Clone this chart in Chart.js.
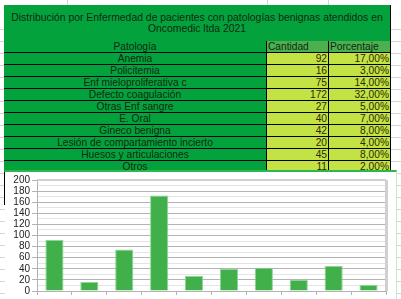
<!DOCTYPE html>
<html>
<head>
<meta charset="utf-8">
<script src="https://cdn.jsdelivr.net/npm/chart.js@4.4.1/dist/chart.umd.min.js"></script>
<style>
  html, body { margin: 0; padding: 0; background: #fff; overflow: hidden; }
  #sheet { position: relative; width: 401px; height: 299px; overflow: hidden;
           font-family: 'Liberation Sans', Arial, sans-serif; font-size: 10.2px; }
  .gl { position: absolute; background: #d4d4d4; }
  .cell { position: absolute; box-sizing: border-box; border-right: 1px solid #000;
          border-bottom: 1px solid #000; line-height: 12px; white-space: nowrap; overflow: hidden;
          padding: 0 1px; color: #0f2a12; }
  #frame { position: absolute; left: 5px; top: 170px; width: 391px; height: 129px;
           background: #fff; border-top: 2px solid #2db84d; border-right: 1px solid #c4ead0; }
  #chartBox { position: absolute; left: 0; top: 0; width: 391px; height: 127px; }
</style>
</head>
<body>
<div id="sheet">
  <div id="frame"><div id="chartBox"><canvas id="chart"></canvas></div></div>
</div>
<script>
  /* --- Data --- */
  const TITLE = ['Distribución por Enfermedad de pacientes con patologías benignas atendidos en', 'Oncomedic ltda  2021'];
  const HEADERS = ['Patología', 'Cantidad', 'Porcentaje'];
  const CATEGORIES = ['Anemia', 'Policitemia', 'Enf mieloproliferativa c', 'Defecto coagulación',
    'Otras Enf sangre', 'E. Oral', 'Gineco benigna', 'Lesión de compartamiento incierto',
    'Huesos y articulaciones', 'Otros'];
  const CANTIDAD = [92, 16, 75, 172, 27, 40, 42, 20, 45, 11];
  const PORCENTAJE = [17, 3, 14, 32, 5, 7, 8, 4, 8, 2];
  const Y_MAX = 200;

  /* --- Colors --- */
  const C = {
    dark: '#04a23c',
    head: '#4cb051',
    value: '#c3e244',
    valueText: '#2b2b00',
    bar: '#41b04a',
    barEdge: '#8fd596',
    major: '#b3b3b3',
    minor: '#e4e4e4'
  };

  const sheet = document.getElementById('sheet');
  const frame = document.getElementById('frame');

  /* --- Spreadsheet gridlines behind --- */
  function line(x, y, w, h) {
    const d = document.createElement('div');
    d.className = 'gl';
    Object.assign(d.style, { left: x + 'px', top: y + 'px', width: w + 'px', height: h + 'px' });
    sheet.insertBefore(d, frame);
  }
  [67, 267, 328].forEach(x => line(x, 0, 1, 299));
  for (let y = 29; y < 299; y += 12) line(0, y, 401, 1);

  /* --- Table --- */
  const TX = 4, TY = 5, COLS = [263, 62, 62], ROW_H = 12, TITLE_H = 36;
  const table = document.createElement('div');
  Object.assign(table.style, { position: 'absolute', left: TX + 'px', top: TY + 'px',
    width: COLS[0] + COLS[1] + COLS[2] + 'px', height: '200px',
    borderTop: '1px solid #000', borderLeft: '1px solid #000', boxSizing: 'border-box' });
  sheet.insertBefore(table, frame);

  function cell(text, x, y, w, h, bg, align, color) {
    const d = document.createElement('div');
    d.className = 'cell';
    Object.assign(d.style, { left: x + 'px', top: y + 'px', width: w + 'px', height: h + 'px',
      background: bg, textAlign: align });
    if (color) d.style.color = color;
    d.innerHTML = text;
    table.appendChild(d);
    return d;
  }

  const t = cell(TITLE.join('<br>'), -1, -1, COLS[0] + COLS[1] + COLS[2], TITLE_H + 1, C.dark, 'center');
  Object.assign(t.style, { display: 'flex', alignItems: 'center', justifyContent: 'center',
    lineHeight: '11.5px', fontSize: '10.4px' });

  const x1 = COLS[0] - 1, x2 = COLS[0] + COLS[1] - 1;
  let y = TITLE_H - 1;
  cell(HEADERS[0], -1, y, COLS[0], ROW_H, C.dark, 'center');
  cell(HEADERS[1], x1, y, COLS[1], ROW_H, C.head, 'left');
  cell(HEADERS[2], x2, y, COLS[2], ROW_H, C.head, 'left');
  CATEGORIES.forEach((name, i) => {
    y += ROW_H;
    cell(name, -1, y, COLS[0], ROW_H, C.dark, 'center');
    cell(String(CANTIDAD[i]), x1, y, COLS[1], ROW_H, C.value, 'right', C.valueText);
    cell(PORCENTAJE[i].toFixed(2).replace('.', ',') + '%', x2, y, COLS[2], ROW_H, C.value, 'right', C.valueText);
  });

  /* --- Plot frame plugin (top / right edge) --- */
  const framePlugin = {
    id: 'plotFrame',
    afterDraw(chart) {
      const { ctx, chartArea: a } = chart;
      ctx.save();
      ctx.fillStyle = '#d0d0d0';
      ctx.fillRect(a.right - 1, a.top, 3, a.bottom - a.top);
      ctx.fillRect(a.left, a.top - 1, a.right - a.left, 2);
      ctx.restore();
    }
  };

  /* --- Chart --- */
  new Chart(document.getElementById('chart'), {
    type: 'bar',
    data: {
      labels: CATEGORIES,
      datasets: [{
        data: CANTIDAD,
        backgroundColor: C.bar,
        borderColor: C.barEdge,
        borderWidth: 1,
        barPercentage: 0.52,
        categoryPercentage: 1
      }]
    },
    options: {
      responsive: true,
      maintainAspectRatio: false,
      animation: false,
      layout: { padding: { top: 3, right: 10, bottom: 0, left: 0 } },
      plugins: { legend: { display: false }, tooltip: { enabled: false } },
      scales: {
        x: {
          offset: true,
          grid: { offset: true, drawOnChartArea: false, tickLength: 4, color: C.major },
          border: { color: C.major },
          ticks: { display: false },
          afterFit: s => { s.height = 5; }
        },
        y: {
          min: 0,
          max: Y_MAX,
          grid: {
            tickLength: 5,
            color: c => (c.tick && c.tick.value % 20 === 0) ? C.major : C.minor,
            tickColor: c => (c.tick && c.tick.value % 20 === 0) ? C.major : 'rgba(0,0,0,0)'
          },
          border: { color: C.major },
          ticks: {
            stepSize: 10,
            autoSkip: false,
            padding: 2,
            color: '#222',
            font: { family: "'Liberation Sans', Arial, sans-serif", size: 10 },
            callback: v => (v % 20 === 0 ? v : '')
          },
          afterFit: s => { s.width = 32; }
        }
      }
    },
    plugins: [framePlugin]
  });
</script>
</body>
</html>
